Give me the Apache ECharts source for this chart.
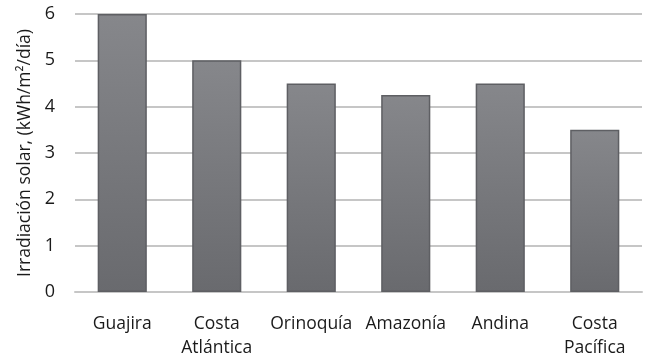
<!DOCTYPE html>
<html>
<head>
<meta charset="utf-8">
<script src="https://cdn.jsdelivr.net/npm/echarts@6/dist/echarts.min.js"></script>
<style>
  html, body { margin: 0; padding: 0; background: #ffffff; }
  #chart { width: 646px; height: 360px; }
</style>
</head>
<body>
<div id="chart"></div>
<script>
// Average daily solar irradiation by region of Colombia
const categories = ['Guajira', 'Costa\nAtlántica', 'Orinoquía', 'Amazonía', 'Andina', 'Costa\nPacífica'];
const irradiation = [6, 5, 4.5, 4.25, 4.5, 3.5];
const yTicks = [0, 1, 2, 3, 4, 5, 6];

const FONT = '"Open Sans", "Noto Sans", sans-serif';
const TEXT = '#1a1a1a';
const chart = echarts.init(document.getElementById('chart'), null, { renderer: 'canvas' });

chart.setOption({
  animation: false,
  backgroundColor: '#ffffff',
  grid: { left: 75, right: 4, top: 14, bottom: 67, containLabel: false },
  xAxis: {
    type: 'category',
    data: categories,
    axisLine: { show: true, lineStyle: { color: '#c6c6c6', width: 2 } },
    axisTick: { show: false },
    axisLabel: {
      color: TEXT,
      fontFamily: FONT,
      fontSize: 17.5,
      lineHeight: 24,
      margin: 20,
      interval: 0
    }
  },
  yAxis: {
    type: 'value',
    min: yTicks[0],
    max: yTicks[yTicks.length - 1],
    interval: 1,
    name: 'Irradiación solar, (kWh/m²/día)',
    nameLocation: 'middle',
    nameGap: 41,
    nameTextStyle: { color: TEXT, fontFamily: FONT, fontSize: 17.5 },
    axisLine: { show: false },
    axisTick: { show: false },
    axisLabel: { color: TEXT, fontFamily: FONT, fontSize: 18, margin: 20 },
    splitLine: { show: true, lineStyle: { color: '#c6c6c6', width: 2 } }
  },
  series: [{
    type: 'bar',
    data: irradiation,
    barWidth: '52%',
    itemStyle: {
      color: new echarts.graphic.LinearGradient(0, 0, 0, 1, [
        { offset: 0, color: '#86878b' },
        { offset: 1, color: '#696a6e' }
      ]),
      borderColor: '#5e5f63',
      borderWidth: 1.5
    }
  }]
});
</script>
</body>
</html>
